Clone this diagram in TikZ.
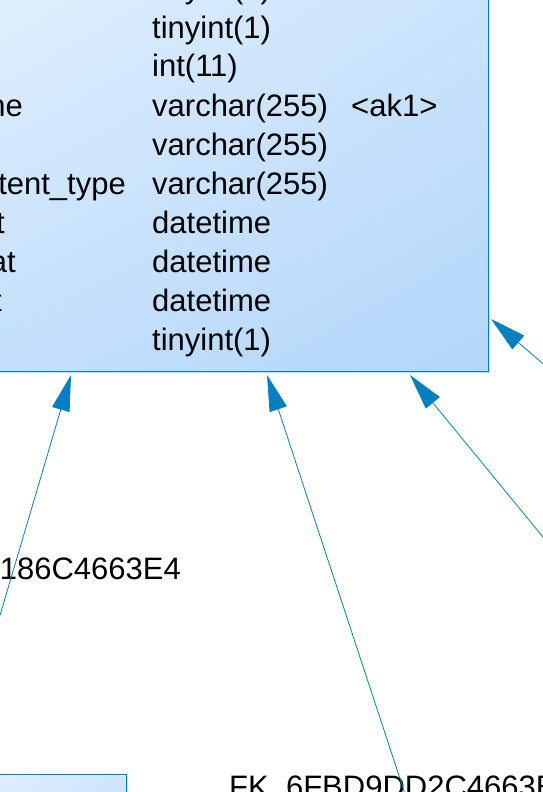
\documentclass[tikz,border=0pt]{standalone}
\usepackage{fontspec}
\setmainfont{Liberation Sans}
\usetikzlibrary{arrows.meta,shadows,shadings}
\definecolor{fkblue}{RGB}{0,128,192}
\definecolor{tblhi}{RGB}{242,249,255}
\definecolor{tblmid}{RGB}{206,229,252}
\definecolor{tbllo}{RGB}{179,214,250}
\definecolor{tblshadow}{RGB}{190,221,250}
\definecolor{tblpale}{RGB}{232,243,254}

\begin{document}
\begin{tikzpicture}[x=1pt, y=-1pt, font=\fontsize{31}{37}\selectfont,
  tblbox/.style={draw=fkblue, line width=1.3pt, inner sep=0pt,
    upper left=tblhi, upper right=tblmid, lower left=tblmid, lower right=tbllo,
    drop shadow={shadow xshift=2pt, shadow yshift=-2pt, fill=tblshadow, opacity=1}},
  cell/.style={anchor=base west, inner sep=0pt},
  cellr/.style={anchor=base east, inner sep=0pt},
  fk/.style={draw=fkblue, line width=0.8pt, -{Triangle[length=36pt, width=18pt]}}]
\useasboundingbox (0,0) rectangle (543,792);
\clip (0,0) rectangle (543,792);
% ---- the table (only its lower right part is in view)
\node[tblbox, anchor=south east, minimum width=820pt, minimum height=440pt] (tbl) at (489,372) {};
\foreach \ty [count=\i from 0] in {tinyint(1), tinyint(1), int(11), varchar(255), varchar(255),
    varchar(255), datetime, datetime, datetime, tinyint(1)}
  \node[cell] (ty\i) at (152,{38+39*(\i-1)}) {\ty};
\node[cell] (ak) at (351,116) {<ak1>};
% ---- column names, cut by the left edge
\node[cellr] (nm3) at (23,116) {ne};
\node[cellr] (nm5) at (126,194) {tent\_type};
\node[cellr] (nm6) at (5,233) {t};
\node[cellr] (nm7) at (16,272) {at};
\node[cellr] (nm8) at (2,311) {t};
% ---- table below, and the reference names
\node[tblbox, upper left=tblpale, lower right=tblmid, anchor=north east, minimum width=200pt, minimum height=60pt] (tbl2) at (127,774) {};
\node[cellr] (ref1) at (181,579) {186C4663E4};
\node[cell] (ref2) at (229,797) {FK\_6FBD9DD2C4663E};
% ---- references
\coordinate (r1) at (-25,700);
\coordinate (r2) at (409,806);
\coordinate (r3) at (570,570);
\coordinate (r4) at (570,387);
\draw[fk] (r1) -- ([xshift=-418pt, yshift=-3pt]tbl.south east);
\draw[fk] (r2) -- ([xshift=-222pt, yshift=-3pt]tbl.south east);
\draw[fk] (r3) -- ([xshift=-79pt, yshift=-3pt]tbl.south east);
\draw[fk] (r4) -- ([xshift=2pt, yshift=53pt]tbl.south east);
\end{tikzpicture}
\end{document}
